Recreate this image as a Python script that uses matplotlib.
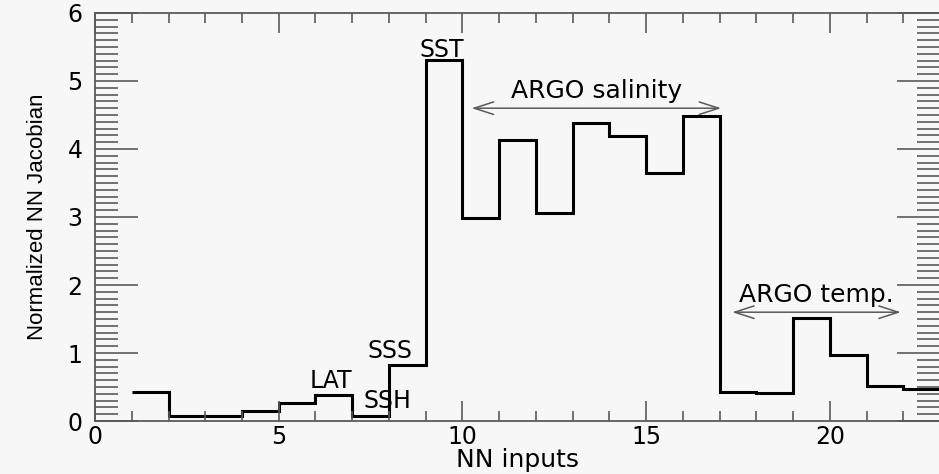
import matplotlib
matplotlib.use('Agg')
import matplotlib.pyplot as plt
from matplotlib.ticker import MultipleLocator

# NN input index edges and normalized Jacobian per input
edges = list(range(1, 24))
jacobian = [0.42, 0.08, 0.07, 0.15, 0.27, 0.38, 0.08, 0.82, 5.31, 2.98, 4.13,
            3.06, 4.38, 4.19, 3.64, 4.49, 0.43, 0.41, 1.51, 0.97, 0.52, 0.47]

# short labels above single inputs: (text, x, y)
labels = [('SST', 9.43, 5.35), ('SSS', 8.04, 0.92),
          ('LAT', 6.43, 0.48), ('SSH', 7.97, 0.19)]
# group arrows: (text, x0, x1, y)
groups = [('ARGO salinity', 10.25, 17.04, 4.6),
          ('ARGO temp.', 17.34, 21.93, 1.6)]

bg = '#f7f7f7'
grey = '#5a5a5a'

fig = plt.figure(figsize=(9.39, 4.74), dpi=100, facecolor=bg)
ax = fig.add_axes([0.1012, 0.1118, 0.9, 0.8608], facecolor=bg)

ax.stairs(jacobian, edges, baseline=None, color='black', lw=2.2)

ax.set_xlim(0, 23)
ax.set_ylim(0, 6)

ax.xaxis.set_major_locator(MultipleLocator(5))
ax.xaxis.set_minor_locator(MultipleLocator(1))
ax.yaxis.set_major_locator(MultipleLocator(1))
ax.yaxis.set_minor_locator(MultipleLocator(0.1))

ax.tick_params(axis='both', which='both', direction='in', top=True, right=True,
               color=grey, width=1.2, labelsize=17, labelcolor='black')
ax.tick_params(axis='x', which='major', length=14.5, pad=3)
ax.tick_params(axis='x', which='minor', length=7.2)
ax.tick_params(axis='y', which='major', length=31, pad=9)
ax.tick_params(axis='y', which='minor', length=16.5)

for s in ax.spines.values():
    s.set_color(grey)
    s.set_linewidth(1.3)

ax.set_xlabel('NN inputs', fontsize=18, labelpad=-1)
ax.set_ylabel('Normalized NN Jacobian', family='Liberation Sans', fontsize=16, labelpad=14)

for txt, x, y in labels:
    ax.text(x, y, txt, ha='center', va='baseline', fontsize=17)

for txt, x0, x1, y in groups:
    ax.annotate('', xy=(x0, y), xytext=(x1, y),
                arrowprops=dict(arrowstyle='<->,head_length=1.4,head_width=0.45',
                                color=grey, lw=1.1, shrinkA=0, shrinkB=0))
    ax.text((x0 + x1) / 2, y + 0.15, txt, ha='center', va='baseline', fontsize=18)

fig.savefig('out.png', dpi=100, facecolor=bg)
